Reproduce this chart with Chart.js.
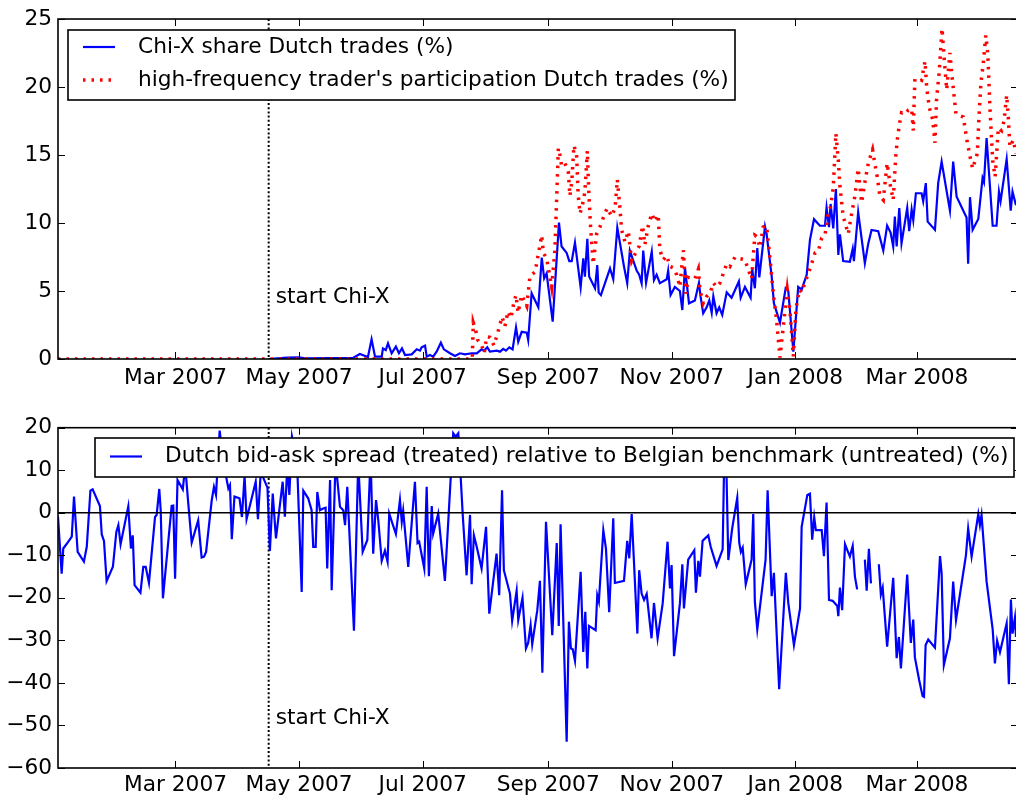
<!DOCTYPE html>
<html>
<head>
<meta charset="utf-8">
<script src="https://cdn.jsdelivr.net/npm/chart.js@4.4.1/dist/chart.umd.min.js"></script>
<style>
  html, body { margin: 0; padding: 0; background: #fff; overflow: hidden; width: 1016px; height: 797px; }
  canvas { position: absolute; left: 0; }
  #shareChart { top: 0; }
  #spreadChart { top: 400px; }
</style>
</head>
<body>
<canvas id="shareChart" width="1024" height="400"></canvas>
<canvas id="spreadChart" width="1024" height="397"></canvas>
<script>
/* ---------- data (x = days since 1 Jan 2007) ---------- */
const xTickDays = [59, 120, 181, 243, 304, 365, 425];
const xTickLabels = ['Mar 2007', 'May 2007', 'Jul 2007', 'Sep 2007', 'Nov 2007', 'Jan 2008', 'Mar 2008'];
const xMinDay = 1;
const xMaxDay = 474.9;
const chiXStartDay = 105;

const shareYTicks = [0, 5, 10, 15, 20, 25];
const spreadYTicks = [-60, -50, -40, -30, -20, -10, 0, 10, 20];

// Chi-X share of Dutch trades (%)
const chixDays = [
  105, 114, 120, 123, 146.6, 150, 154, 155.8, 157.5, 160.8,
  161.4, 162.8, 163.9, 165.7, 167.8, 169.3, 170.8, 172.3, 175.6, 178.1,
  179.7, 180.5, 182.2, 183.0, 184.6, 186.2, 187.9, 190.0, 191.5, 194.5,
  197.0, 199.4, 201.9, 205.2, 207.7, 210.1, 211.3, 212.9, 214.2, 217.6,
  219.2, 220.8, 222.1, 223.8, 225.4, 227.1, 228.2, 229.9, 232.4, 233.1,
  234.8, 238.1, 239.8, 241.0, 242.2, 245.2, 248.3, 249.6, 252.1, 253.4,
  254.6, 256.2, 259.0, 260.3, 261.1, 262.3, 263.2, 266.1, 267.2, 267.9,
  269.0, 273.5, 275.1, 277.1, 280.4, 282.0, 283.3, 286.7, 287.9, 289.1,
  289.9, 291.3, 294.1, 295.2, 296.5, 298.1, 301.5, 302.2, 303.4, 305.5,
  308.0, 309.2, 310.5, 312.5, 315.4, 317.4, 318.2, 319.5, 321.2, 322.5,
  323.7, 324.5, 326.1, 327.4, 328.9, 331.1, 333.5, 337.1, 338.0, 340.1,
  342.9, 343.7, 345.0, 346.2, 347.2, 350.0, 350.8, 353.3, 354.4, 357.4,
  360.2, 361.5, 364.0, 366.4, 368.1, 370.6, 372.2, 374.2, 377.1, 379.6,
  380.4, 381.6, 382.4, 383.7, 385.0, 386.2, 387.0, 388.6, 391.9, 393.3,
  393.9, 396.0, 399.3, 401.0, 402.6, 405.9, 408.4, 410.3, 412.0, 413.3,
  414.1, 415.0, 416.3, 417.4, 420.2, 421.2, 422.4, 423.2, 424.5, 427.3,
  428.1, 429.4, 430.3, 433.9, 435.5, 437.2, 441.3, 442.9, 444.6, 449.5,
  450.3, 451.2, 452.5, 455.3, 457.4, 458.1, 459.4, 462.4, 464.3, 465.5,
  466.3, 469.3, 471.3, 472.2, 473.9
];
const chixShare = [
  0, 0.1, 0.12, 0.05, 0.08, 0.37, 0.15, 1.45, 0.17, 0.17,
  0.78, 0.66, 1.15, 0.42, 0.91, 0.42, 0.78, 0.29, 0.34, 0.71,
  0.61, 0.86, 0.98, 0.17, 0.29, 0.17, 0.54, 1.2, 0.71, 0.42,
  0.22, 0.42, 0.34, 0.42, 0.42, 0.71, 0.61, 0.86, 0.54, 0.61,
  0.54, 0.74, 0.61, 0.86, 0.71, 2.33, 1.27, 2.0, 1.94, 1.4,
  4.83, 3.8, 7.45, 5.93, 6.3, 2.75, 10.03, 8.27, 7.8, 7.2,
  7.2, 8.56, 5.27, 7.4, 6.06, 8.83, 6.06, 5.2, 6.9, 4.88,
  4.7, 6.67, 5.86, 9.66, 6.8, 5.57, 7.97, 6.48, 6.2, 5.57,
  7.97, 5.6, 7.9, 5.8, 6.2, 5.57, 5.86, 6.5, 4.7, 5.3,
  5.0, 3.6, 6.7, 4.1, 4.3, 5.6, 4.6, 3.36, 3.8, 4.3,
  3.4, 4.6, 3.36, 3.8, 3.24, 4.9, 4.5, 5.7, 4.5, 5.3,
  4.5, 6.6, 5.2, 8.15, 6.0, 9.74, 9.2, 6.1, 4.1, 2.67,
  5.2, 5.0, 0.54, 5.3, 5.1, 6.2, 8.76, 10.28, 9.8, 9.8,
  11.13, 9.7, 11.4, 9.6, 12.49, 7.65, 9.17, 7.2, 7.15, 8.1,
  7.2, 10.79, 7.04, 8.5, 9.49, 9.4, 7.97, 9.81, 9.3, 8.27,
  10.47, 8.27, 11.09, 8.5, 11.1, 9.4, 11.0, 10.2, 12.19, 12.19,
  11.6, 12.93, 10.1, 9.5, 12.93, 14.52, 10.91, 14.52, 11.94, 10.4,
  7.0, 11.9, 9.5, 10.3, 13.3, 13.0, 16.24, 9.8, 9.8, 12.3,
  11.6, 14.7, 10.9, 12.3, 11.3
];

// high-frequency trader's participation in Dutch trades (%)
const hftDays = [
  1, 205.5, 206.0, 207.2, 208.2, 210.1, 211.4, 212.6, 214.2, 216.2,
  218.2, 220.2, 221.6, 223.1, 224.6, 226.1, 227.1, 228.1, 229.9, 232.4,
  234.0, 236.5, 239.8, 240.6, 242.2, 244.7, 246.3, 248.0, 248.8, 249.6,
  251.2, 252.9, 253.7, 254.6, 255.7, 257.0, 257.8, 258.7, 260.0, 261.1,
  262.3, 263.1, 263.9, 265.2, 266.9, 268.5, 270.2, 272.1, 274.3, 276.0,
  277.1, 278.4, 279.2, 280.9, 282.5, 284.2, 285.8, 287.9, 289.6, 290.7,
  292.4, 294.1, 295.7, 297.3, 298.1, 299.8, 301.5, 303.1, 304.7, 306.4,
  308.0, 309.7, 311.0, 312.1, 313.8, 315.4, 317.1, 317.9, 319.5, 321.2,
  322.8, 324.5, 326.1, 327.8, 329.7, 331.1, 332.7, 335.2, 336.8, 340.1,
  341.7, 343.4, 345.0, 345.9, 347.5, 349.1, 350.8, 352.4, 354.1, 355.7,
  357.4, 358.7, 359.9, 361.0, 362.3, 364.0, 365.3, 367.0, 368.1, 369.7,
  371.4, 373.0, 374.7, 376.3, 378.0, 379.6, 381.2, 382.4, 383.7, 385.0,
  386.2, 387.0, 388.6, 391.1, 392.8, 394.4, 396.0, 397.7, 399.3, 401.0,
  403.1, 404.3, 405.4, 406.7, 408.4, 410.3, 411.7, 413.3, 414.6, 415.3,
  416.3, 417.4, 419.1, 420.7, 422.4, 423.2, 424.0, 425.7, 427.3, 429.0,
  429.8, 431.1, 432.8, 433.9, 434.7, 436.0, 437.4, 438.5, 439.7, 441.3,
  442.2, 443.3, 444.3, 447.9, 449.9, 451.2, 452.5, 454.8, 455.8, 456.6,
  457.8, 459.0, 460.0, 461.1, 462.4, 463.6, 465.2, 466.8, 468.0, 469.3,
  470.1, 470.9, 472.6, 473.9
];
const hftShare = [
  0, 0, 2.67, 2.1, 1.4, 1.03, 0.42, 1.64, 1.6, 1.0,
  2.0, 3.1, 2.4, 3.5, 3.0, 4.2, 4.7, 3.4, 4.7, 3.9,
  6.1, 6.4, 9.1, 7.8, 7.4, 5.3, 8.0, 15.5, 15.0, 14.2,
  14.4, 13.8, 12.0, 13.0, 15.7, 15.0, 12.0, 10.7, 11.4, 12.3,
  15.3, 12.0, 9.7, 7.0, 9.2, 9.7, 10.4, 11.1, 10.5, 11.1,
  13.2, 11.1, 9.5, 8.6, 9.4, 7.2, 7.7, 8.3, 9.8, 8.4,
  9.8, 10.7, 10.1, 10.6, 8.0, 7.3, 7.6, 6.8, 6.7, 6.2,
  5.3, 8.0, 4.8, 6.0, 5.9, 5.9, 6.6, 5.1, 4.1, 4.6,
  4.8, 5.6, 5.3, 5.6, 6.4, 7.0, 6.8, 7.5, 7.4, 7.3,
  6.6, 5.9, 9.1, 9.0, 8.2, 9.7, 9.8, 7.5, 4.8, 2.9,
  0.1, 1.9, 3.6, 5.1, 3.6, 0.2, 3.7, 5.1, 4.9, 5.6,
  6.3, 7.0, 7.8, 7.9, 8.9, 9.1, 10.7, 11.2, 12.6, 16.6,
  14.6, 12.7, 10.5, 9.2, 10.7, 12.0, 14.0, 11.5, 13.0, 14.4,
  15.4, 14.3, 13.4, 12.0, 11.7, 14.4, 12.9, 11.7, 15.0, 16.1,
  17.2, 18.1, 18.0, 18.3, 18.4, 16.8, 20.6, 20.6, 20.5, 21.9,
  20.0, 18.5, 17.6, 15.9, 19.1, 21.1, 24.3, 22.0, 19.8, 22.5,
  21.0, 19.4, 18.0, 17.8, 15.9, 14.9, 14.0, 15.1, 18.3, 20.3,
  21.8, 23.8, 22.4, 18.3, 14.6, 13.4, 17.0, 16.8, 17.5, 19.4,
  17.8, 15.6, 16.1, 15.1
];

// Dutch bid-ask spread relative to Belgian benchmark (%), null = missing day
const spreadDays = [
  1.0, 2.8, 3.6, 6.1, 7.8, 8.9, 10.7, 13.8, 15.2, 17.0,
  18.1, 21.7, 22.6, 23.7, 25.0, 28.1, 29.8, 30.8, 31.9, 35.7,
  37.0, 37.9, 38.8, 41.7, 43.1, 44.3, 45.9, 48.9, 49.7, 51.0,
  51.7, 52.8, 57.1, 57.9, 58.8, 60.0, 62.6, 63.8, 65.2, 67.0,
  70.2, 71.9, 73.1, 74.1, 76.9, 78.0, 79.0, 80.8, 82.6, 85.1,
  85.9, 86.8, 88.1, 90.6, 91.8, 93.1, 94.1, 98.6, 99.7, 101.1,
  104.4, 105.6, 107.0, 108.6, 111.9, 113.0, 114.2, 115.2, 116.5, 119.0,
  121.3, 122.1, 124.5, 126.2, 127.0, 128.2, 129.0, 130.3, 131.9, 133.1,
  133.9, 135.3, 136.1, 138.0, 140.2, 141.8, 142.7, 143.8, 147.1, 149.2,
  151.4, 153.7, 155.3, 156.6, 158.0, 159.1, 160.8, 162.4, 163.7, 164.5,
  167.8, 169.8, 170.7, 171.4, 173.9, 177.2, 178.5, 179.3, 181.8, 183.0,
  184.1, 185.5, 186.2, 188.7, 192.0, 196.1, 197.3, 198.6, 200.8, 202.7,
  204.4, 205.2, 206.3, 207.7, 210.1, 212.3, 213.9, 217.5, 218.8, 220.2,
  221.1, 224.1, 225.2, 227.4, 228.2, 230.3, 232.0, 233.1, 234.3, 235.1,
  237.6, 238.9, 240.1, 241.9, 245.0, 247.2, 248.2, 249.1, 252.1, 253.2,
  254.2, 255.1, 256.2, 259.0, 260.3, 261.3, 262.3, 263.1, 266.4, 267.2,
  268.0, 270.2, 271.5, 273.1, 275.1, 275.9, 280.4, 282.0, 283.0, 284.2,
  287.0, 287.9, 289.1, 290.3, 291.6, 294.0, 295.2, 297.0, 299.5, 301.9,
  303.1, 303.9, 305.1, 308.0, 309.2, 310.0, 312.1, 315.1, 315.9, 317.1,
  317.9, 319.2, 322.0, 323.2, 326.1, 329.1, 330.0, 330.7, 331.9, 333.8,
  336.3, 337.3, 338.1, 339.0, 340.5, 343.4, 344.2, 345.0, 346.2, 350.3,
  351.3, 353.3, 354.4, 357.0, 360.3, 361.5, 364.3, 367.3, 368.1, 370.9,
  372.2, 373.3, 374.3, 375.1, 378.0, 379.1, 380.4, 381.6, 383.4, 385.7,
  386.2, 387.0, 388.1, 389.5, 391.9, 393.3, 394.4, 395.5, 397.5, 399.3,
  400.2, 401.3, 402.3, 404.5, 406.2, 407.2, 408.1, 410.3, 413.3, 415.0,
  416.1, 417.1, 420.2, 422.0, 423.2, 424.0, 426.1, 427.8, 428.5, 429.3,
  430.6, 433.9, 436.4, 437.2, 438.3, 441.3, 442.9, 444.3, 449.2, 450.3,
  452.0, 455.3, 456.1, 456.9, 459.4, 462.4, 463.5, 464.6, 466.0, 469.3,
  470.4, 471.4, 472.2, 473.4, 473.9
];
const spreadValues = [
  -0.9, -14.3, -8.4, -6.8, -5.6, 3.8, -9.2, -11.5, -8, 5.2,
  5.5, 1.6, -5.1, -6.6, -16.1, -12.7, -4.5, -2.9, -7.4, 1.5,
  -8.4, -5.3, -17, -18.8, -12.7, -12.7, -16.5, -1, -0.5, 5.6,
  0.6, -20.1, 1.6, 1.7, -15.5, 7.7, 5.5, 11, 2.8, -7,
  -1.8, -10.5, -10.3, -9.2, 3, 6.1, 4.2, 19.3, 12, 5.7,
  6.5, -6.2, 3.8, 3.4, -1, 8.7, -1.5, 7.3, -1.5, 9.6,
  5.9, -9, 4.5, -6, 7.3, -0.9, 11.2, 4.2, 17.9, 12,
  -18.6, 5.2, 3.4, 0.6, -8, -8, 4.9, 0.6, 1.0, 1.2,
  -13.1, 7.7, -18.2, 12, 1.4, 0.6, -2.9, 6.1, -27.7, 12,
  -9.2, -6.4, 13, -9.6, 3, -1.7, -11.3, -8.9, -11.5, -0.2,
  -5, 3, -2.1, 0.5, -12.7, 7.3, -7.1, -6.8, -13.1, 6.1,
  -14.9, 1.6, -4.9, -0.2, -16, 18.7, 17.9, 18.7, -0.5, -14.7,
  -0.5, -16.8, -5.3, -8, -13.1, -3.3, -23.7, -9.6, -19.4, 5.3,
  -13.5, -19, -25.4, -18.3, -25.2, -20, -31.9, -30.6, -26.4, -30.9,
  -22.9, -16, -37.6, -2.1, -28.8, -7.1, -26.6, -2.7, -53.8, -25.6,
  -31.9, -32.1, -34.8, -13.9, -32.7, -23.3, -36.6, -26.6, -27.6, -19.4,
  -20.9, -4.1, -8.4, -23.4, -1.3, -16.5, -16, -6.6, -10.7, -0.3,
  -28.4, -13.5, -19, -20.5, -19.1, -29.5, -21.2, -29.5, -21.3, -6.8,
  -17.8, -12.3, -33.7, -21.3, -12.1, -22.5, -11, -8.8, -18.8, -11.3,
  -15, -6.6, -5.3, -8, -12.5, -8.6, 16, 16, -11.1, -3.7,
  3.5, -7.1, -9.2, -8.2, -16.8, -11, -0.3, -20.9, -27.4, -11,
  5.3, -19.6, -14.1, -41.5, -14.1, -21.2, -31.1, -22.5, -3.3, 4.2,
  4.5, -6.3, -1.1, -4.1, -4.1, -10.2, 2.4, -20.5, -20.7, -21.9,
  -24.3, -17.6, -22.9, -7.4, -10.3, -7.8, -15, -18, null, -11,
  -18.3, -8.5, -16.6, null, -12.1, -19.2, -17.6, -31.5, -15.3, -34.2,
  -29.2, -36.6, -14.5, -30.6, -25.1, -34, -39.3, -43.1, -43.3, -31.1,
  -29.8, -31.7, -10.2, -14.3, -35.8, -29.5, -16.2, -25.2, -10, -3.7,
  -10.3, -0.3, -2.9, -0.5, -16.2, -27.4, -35.4, -30.1, -32.8, -26,
  -40.3, -20.4, -28.4, -24.6, -29.2
];

/* ---------- helpers ---------- */
function toPoints(days, vals) {
  return days.map((d, i) => ({ x: d, y: vals[i] }));
}
function fmtNum(v) {
  return v < 0 ? '\u2212' + Math.abs(v) : String(v);
}

const FONT_PX = 21.7;
Chart.defaults.font.family = '"DejaVu Sans", sans-serif';
Chart.defaults.font.size = FONT_PX;
Chart.defaults.color = '#000';

/* frame, ticks, marker line, legend box — drawn the matplotlib way */
const mplPlugin = {
  id: 'mpl',
  beforeDatasetsDraw(chart) {
    const { ctx, chartArea: a, scales: { x } } = chart;
    const px = x.getPixelForValue(chiXStartDay);
    ctx.save();
    ctx.strokeStyle = '#000';
    ctx.lineWidth = 2;
    ctx.setLineDash([2, 2.2]);
    ctx.beginPath();
    ctx.moveTo(px, a.top);
    ctx.lineTo(px, a.bottom);
    ctx.stroke();
    ctx.restore();
  },
  afterDatasetsDraw(chart, args, o) {
    const { ctx, chartArea: a, scales: { x, y } } = chart;
    ctx.save();
    ctx.strokeStyle = '#000';
    ctx.fillStyle = '#000';

    if (o.zeroLine) {
      const py = y.getPixelForValue(0);
      ctx.lineWidth = 1.6;
      ctx.beginPath();
      ctx.moveTo(a.left, py);
      ctx.lineTo(a.right, py);
      ctx.stroke();
    }

    ctx.font = FONT_PX + 'px "DejaVu Sans"';
    ctx.textBaseline = 'middle';
    ctx.textAlign = 'left';
    ctx.fillText('start Chi-X', x.getPixelForValue(chiXStartDay) + 7, y.getPixelForValue(o.labelY));

    // spines
    ctx.lineWidth = 1.6;
    ctx.strokeRect(a.left, a.top, a.right - a.left, a.bottom - a.top);

    // inward ticks
    ctx.lineWidth = 1;
    ctx.beginPath();
    x.ticks.forEach(t => {
      const p = Math.round(x.getPixelForValue(t.value)) + 0.5;
      ctx.moveTo(p, a.bottom); ctx.lineTo(p, a.bottom - 7);
      ctx.moveTo(p, a.top); ctx.lineTo(p, a.top + 7);
    });
    y.ticks.forEach(t => {
      const p = Math.round(y.getPixelForValue(t.value)) + 0.5;
      ctx.moveTo(a.left, p); ctx.lineTo(a.left + 7, p);
      ctx.moveTo(a.right, p); ctx.lineTo(a.right - 7, p);
    });
    ctx.stroke();

    // legend box
    const L = o.legend;
    ctx.fillStyle = '#fff';
    ctx.fillRect(L.left, L.top, L.right - L.left, L.bottom - L.top);
    ctx.lineWidth = 1.6;
    ctx.strokeRect(L.left, L.top, L.right - L.left, L.bottom - L.top);
    chart.data.datasets.forEach((ds, i) => {
      const cy = L.top + L.firstRow + i * L.rowStep;
      ctx.save();
      ctx.strokeStyle = ds.borderColor;
      ctx.lineWidth = ds.borderWidth;
      ctx.setLineDash(ds.borderDash || []);
      ctx.beginPath();
      ctx.moveTo(L.sampleX0, cy);
      ctx.lineTo(L.sampleX1, cy);
      ctx.stroke();
      ctx.restore();
      ctx.fillStyle = '#000';
      ctx.fillText(ds.label, L.textX, cy);
    });
    ctx.restore();
  }
};

function xScale(h, pad) {
  return {
    type: 'linear',
    min: xMinDay,
    max: xMaxDay,
    grid: { display: false, drawTicks: false },
    border: { display: false },
    afterBuildTicks: s => { s.ticks = xTickDays.map(v => ({ value: v })); },
    afterFit: s => { s.height = h; },
    ticks: {
      autoSkip: false,
      maxRotation: 0,
      padding: pad,
      callback: v => xTickLabels[xTickDays.indexOf(v)]
    }
  };
}
function yScale(ticks) {
  return {
    type: 'linear',
    min: ticks[0],
    max: ticks[ticks.length - 1],
    grid: { display: false, drawTicks: false },
    border: { display: false },
    afterBuildTicks: s => { s.ticks = ticks.map(v => ({ value: v })); },
    afterFit: s => { s.width = 58; },
    ticks: { padding: 6, callback: v => fmtNum(v) }
  };
}

/* ---------- top panel ---------- */
new Chart(document.getElementById('shareChart'), {
  type: 'line',
  data: {
    datasets: [{
      label: 'Chi-X share Dutch trades (%)',
      data: toPoints(chixDays, chixShare),
      borderColor: '#0000ff',
      borderWidth: 2.2,
      order: 1
    }, {
      label: "high-frequency trader's participation Dutch trades (%)",
      data: toPoints(hftDays, hftShare),
      borderColor: '#ff0000',
      borderWidth: 3.5,
      borderDash: [2.5, 6],
      order: 0
    }]
  },
  options: {
    responsive: false,
    animation: false,
    layout: { padding: { top: 19, right: 6, left: 0, bottom: 0 } },
    elements: { point: { radius: 0 }, line: { tension: 0, borderCapStyle: 'butt' } },
    scales: { x: xScale(41, 6), y: yScale(shareYTicks) },
    plugins: {
      legend: { display: false },
      tooltip: { enabled: false },
      mpl: {
        labelY: 4.5,
        legend: { left: 68, top: 30, right: 735, bottom: 100, firstRow: 17, rowStep: 33, sampleX0: 83, sampleX1: 115, textX: 138 }
      }
    }
  },
  plugins: [mplPlugin]
});

/* ---------- bottom panel ---------- */
new Chart(document.getElementById('spreadChart'), {
  type: 'line',
  data: {
    datasets: [{
      label: 'Dutch bid-ask spread (treated) relative to Belgian benchmark (untreated) (%)',
      data: toPoints(spreadDays, spreadValues),
      borderColor: '#0000ff',
      borderWidth: 2.2,
      spanGaps: false
    }]
  },
  options: {
    responsive: false,
    animation: false,
    layout: { padding: { top: 27.7, right: 6, left: 0, bottom: 0 } },
    elements: { point: { radius: 0 }, line: { tension: 0 } },
    scales: { x: xScale(29, 4.7), y: yScale(spreadYTicks) },
    plugins: {
      legend: { display: false },
      tooltip: { enabled: false },
      mpl: {
        zeroLine: true,
        labelY: -48.3,
        legend: { left: 95, top: 38, right: 1014, bottom: 77, firstRow: 18.5, rowStep: 0, sampleX0: 110, sampleX1: 142, textX: 165 }
      }
    }
  },
  plugins: [mplPlugin]
});
</script>
</body>
</html>
